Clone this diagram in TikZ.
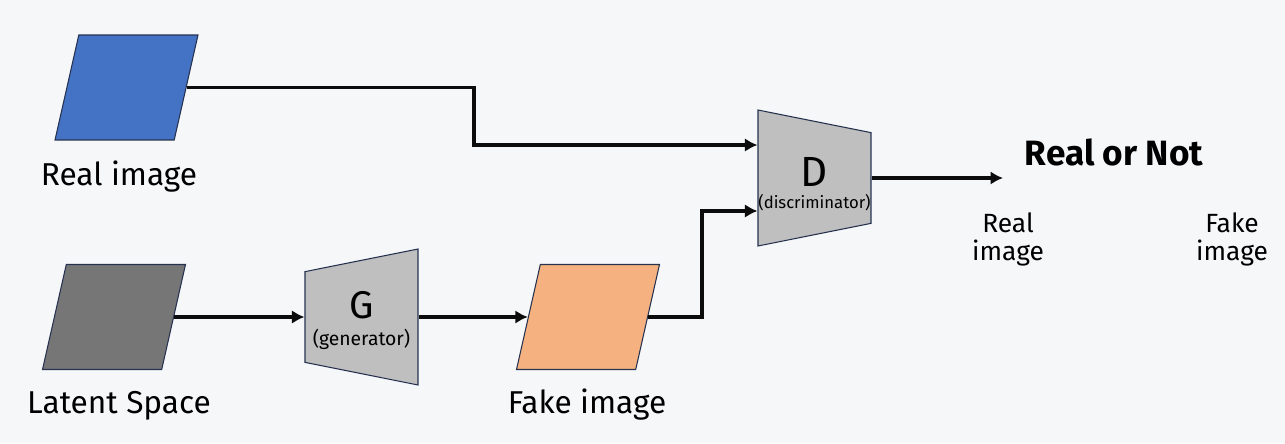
\documentclass[tikz,border=0pt]{standalone}
\usepackage{fontspec}
\setmainfont{Fira Sans}
\usepackage{tikz}
\usetikzlibrary{shapes.geometric, arrows.meta, positioning}
\definecolor{mybg}{RGB}{246,247,249}
\definecolor{myblue}{RGB}{68,114,196}
\definecolor{mygray}{RGB}{118,118,118}
\definecolor{myorange}{RGB}{245,178,128}
\definecolor{myboxgray}{RGB}{191,191,191}
\definecolor{myedge}{RGB}{38,50,80}
\definecolor{mydark}{RGB}{12,12,12}
\tikzset{
  imgbox/.style={trapezium, trapezium left angle=76, trapezium right angle=104,
    trapezium stretches=true, minimum width=2.86cm, minimum height=2.1cm,
    inner sep=2pt, draw=myedge, line width=0.6pt},
  netbox/.style={trapezium, trapezium left angle=76, trapezium right angle=76,
    trapezium stretches=true, minimum width=2.72cm, minimum height=2.26cm,
    inner sep=2pt, draw=myedge, fill=myboxgray, line width=0.6pt},
  caption/.style={font=\fontsize{18}{20}\selectfont, inner sep=0pt, anchor=base},
  netname/.style={font=\fontsize{22}{24}\selectfont, inner sep=0pt, anchor=base},
  netnote/.style={inner sep=0pt, anchor=base},
  verdict/.style={font=\fontsize{15}{16}\selectfont, align=center, inner sep=0pt, anchor=north},
  arrow/.style={-{Latex[length=0.25cm, width=0.27cm]}, line width=2.2pt, color=mydark}
}

\begin{document}
\begin{tikzpicture}[x=0.02cm, y=-0.02cm]
  \fill[mybg] (0,0) rectangle (1285,443);
  \useasboundingbox (0,0) rectangle (1285,443);

  % images
  \node[imgbox, fill=myblue] (real) at (126.5,87.5) {};
  \node[imgbox, fill=mygray] (latent) at (114,317) {};
  \node[imgbox, fill=myorange] (fake) at (588,317) {};

  % networks
  \node[netbox, shape border rotate=90] (gen) at (361.5,317) {};
  \node[netbox, shape border rotate=270] (disc) at (814.5,178) {};
  \node[netname] (genname) at (361.5,318) {G};
  \node[netnote, font=\fontsize{11}{12}\selectfont] (gennote) at (361.5,345) {(generator)};
  \node[netname, font=\fontsize{24}{26}\selectfont] (discname) at (814.5,186) {D};
  \node[netnote, font=\fontsize{9.5}{11}\selectfont] (discnote) at (814.5,208) {(discriminator)};

  % captions
  \node[caption] (reallbl) at (119,185) {Real image};
  \node[caption] (latentlbl) at (119,413) {Latent Space};
  \node[caption] (fakelbl) at (587,413) {Fake image};
  \node[caption, font=\fontsize{20}{22}\selectfont\bfseries] (result) at (1114,165) {Real or Not};
  \node[verdict] (isreal) at (1008,212) {Real\\image};
  \node[verdict] (isfake) at (1232,212) {Fake\\image};
  \coordinate (outend) at (1003,178);

  \draw[arrow] (real.east) -- ++(5.74cm,0) |- ([yshift=0.66cm]disc.west);
  \draw[arrow] (latent.east) -- (gen.west);
  \draw[arrow] (gen.east) -- (fake.west);
  \draw[arrow] (fake.east) -- ++(1.08cm,0) |- ([yshift=-0.66cm]disc.west);
  \draw[arrow] (disc.east) -- (outend);
\end{tikzpicture}
\end{document}
